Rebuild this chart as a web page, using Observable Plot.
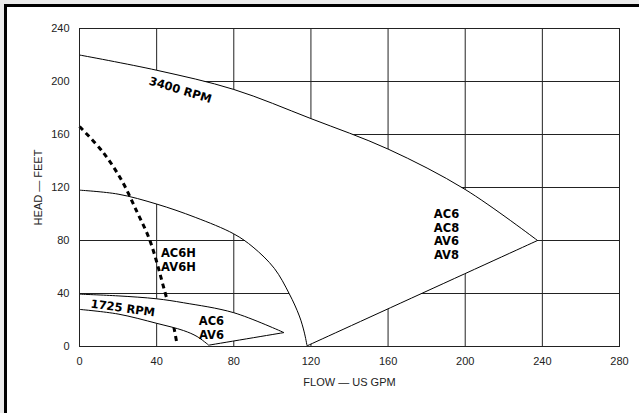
<!DOCTYPE html>
<html><head><meta charset="utf-8">
<script src="https://cdn.jsdelivr.net/npm/d3@7"></script>
<script src="https://cdn.jsdelivr.net/npm/@observablehq/plot@0.6"></script>
<style>
body{margin:0;background:#fff;}
#wrap{position:relative;width:639px;height:413px;overflow:hidden;background:#fff;}
.strip{position:absolute;pointer-events:none;}
</style></head><body>
<div id="wrap"></div>
<script>
// ---- data ----
const xTicks = [0, 40, 80, 120, 160, 200, 240, 280];
const yTicks = [0, 40, 80, 120, 160, 200, 240];

// 3400 RPM envelope: top curve, right diagonal, inner arc
const curve3400 = [[0,220],[40,208.5],[80,194],[120,172],[160,149],[200,118.5],[237.5,80]];
const diag3400  = [[237.5,80],[118,0.5]];
const arc3400   = [[118,0.5],[116.5,11],[114,23],[108.7,40],[101,59],[90,75],[80,85],[60,97.5],[40,107.5],[20,115],[0,118]];

// 1725 RPM band
const band1725Upper = [[0,39.5],[20,38.2],[40,36],[54,33],[80,25.5],[106,10.5]];
const band1725Tip   = [[106,10.5],[67,1]];
const band1725Lower = [[67,1],[61,7.5],[54,12],[40,17.5],[20,24.5],[0,28]];
const band1725Edge  = [[0,28],[0,39.5]];

// dashed limit line
const dashedLimit = [[0,166],[12,147],[22,125],[30,101],[36,82],[40,64],[43,48],[46,32],[49,14],[50.5,2]];

// annotations
const noteText   = ["3400 RPM", "1725 RPM", "AC6H\nAV6H", "AC6\nAV6", "AC6\nAC8\nAV6\nAV8"];
const noteX      = [52.4, 22.5, 51.3, 68.4, 190.3];
const noteY      = [194, 29.4, 65.7, 14.3, 84.7];
const noteRotate = [17, 8, 0, 0, 0];

const xLabel = "FLOW — US GPM";
const yLabel = "HEAD — FEET";

// ---- chart ----
const notes = noteText.map((t, i) => ({t, x: noteX[i], y: noteY[i], r: noteRotate[i]}));
const region3400 = [...curve3400, ...diag3400, ...arc3400];
const band1725 = [...band1725Upper, ...band1725Tip, ...band1725Lower, ...band1725Edge];

const chart = Plot.plot({
  width: 639,
  height: 413,
  marginLeft: 79,
  marginRight: 20,
  marginTop: 28,
  marginBottom: 67,
  style: {fontFamily: "'Liberation Sans', Arial, sans-serif", fontSize: "11px", color: "#222"},
  x: {domain: [0, 280], ticks: xTicks, tickSize: 0, tickPadding: 11, label: xLabel, labelAnchor: "center", labelOffset: 39, labelArrow: "none"},
  y: {domain: [0, 240], ticks: yTicks, tickSize: 0, tickPadding: 10, label: yLabel, labelAnchor: "center", labelOffset: 45, labelArrow: "none"},
  marks: [
    Plot.gridX(xTicks, {stroke: "#222", strokeOpacity: 1}),
    Plot.gridY(yTicks, {stroke: "#222", strokeOpacity: 1}),
    Plot.line(region3400, {curve: "catmull-rom", fill: "white", stroke: "black", strokeWidth: 1}),
    Plot.line(dashedLimit, {curve: "catmull-rom", stroke: "black", strokeWidth: 3, strokeDasharray: "5,4", strokeLinecap: "butt"}),
    Plot.line(band1725, {curve: "catmull-rom", fill: "white", stroke: "black", strokeWidth: 1}),
    Plot.frame({stroke: "#222"}),
    Plot.text(notes, {x: "x", y: "y", text: "t", rotate: "r", fontFamily: "'DejaVu Sans', sans-serif", fontWeight: "bold", fontSize: 11.5, lineHeight: 1.19, fill: "black"})
  ]
});

const wrap = document.getElementById("wrap");
wrap.appendChild(chart);
// page border (gray margin and black rule along the top and left edges)
[["0px","0px","639px","4px","#ebebeb"],["0px","0px","4px","413px","#ebebeb"],["4px","4px","635px","3px","#000"],["4px","4px","3px","409px","#000"]].forEach(([l,t,w,h,c]) => {
  const d = document.createElement("div");
  d.className = "strip";
  Object.assign(d.style, {left: l, top: t, width: w, height: h, background: c});
  wrap.appendChild(d);
});
</script>
</body></html>
